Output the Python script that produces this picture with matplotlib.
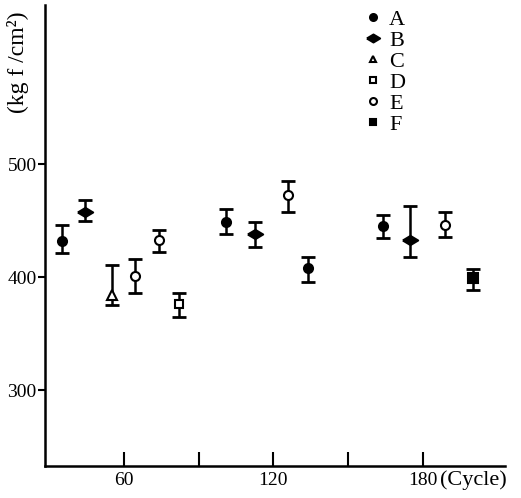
import matplotlib
matplotlib.use("Agg")
import matplotlib.pyplot as plt
from matplotlib.lines import Line2D

plt.rcParams['font.family'] = ['Liberation Serif', 'DejaVu Serif']

# series: cycle, mean strength, lower / upper ends of the error bar
A_x = [35, 101, 134, 164]
A_y = [432, 449, 408, 445]
A_lo = [421, 438, 396, 435]
A_hi = [446, 460, 418, 455]

B_x = [44.5, 112.5, 175]
B_y = [458, 438, 433]
B_lo = [450, 427, 418]
B_hi = [468, 449, 463]

C_x = [55]
C_y = [384]
C_lo = [375]
C_hi = [411]

D_x = [82]
D_y = [376]
D_lo = [365]
D_hi = [386]

E_x = [64.5, 74, 126, 189]
E_y = [401, 433, 473, 446]
E_lo = [386, 422, 458, 436]
E_hi = [416, 442, 485, 458]

F_x = [200]
F_y = [399]
F_lo = [389]
F_hi = [407]

labels = ['A', 'B', 'C', 'D', 'E', 'F']

# wide, flat diamond for series B
flat_diamond = [(-1.5, 0), (0, 0.9), (1.5, 0), (0, -0.9), (-1.5, 0)]

fig = plt.figure(figsize=(5.21, 4.98), dpi=100)
ax = fig.add_axes([0.0864, 0.0643, 0.883, 0.926])

series = [
    (A_x, A_y, A_lo, A_hi, 'o', 'black', 6.5),
    (B_x, B_y, B_lo, B_hi, flat_diamond, 'black', 11),
    (C_x, C_y, C_lo, C_hi, '^', 'white', 6.5),
    (D_x, D_y, D_lo, D_hi, 's', 'white', 5.5),
    (E_x, E_y, E_lo, E_hi, 'o', 'white', 6.5),
    (F_x, F_y, F_lo, F_hi, 's', 'black', 6.5),
]

handles = []
for (x, y, lo, hi, m, fc, ms), lab in zip(series, labels):
    err = [[yy - l for yy, l in zip(y, lo)], [h - yy for yy, h in zip(y, hi)]]
    ax.errorbar(x, y, yerr=err, fmt='none', ecolor='black', elinewidth=1.8,
                capsize=5, capthick=2)
    ax.plot(x, y, linestyle='none', marker=m, markersize=ms,
            markerfacecolor=fc, markeredgecolor='black', markeredgewidth=1.5)
    handles.append(Line2D([], [], linestyle='none', marker=m, markersize=ms - 1.5,
                          markerfacecolor=fc, markeredgecolor='black',
                          markeredgewidth=1.5, label=lab))

ax.set_xlim(28.3, 213)
ax.set_ylim(233, 641)

for s in ['top', 'right']:
    ax.spines[s].set_visible(False)
for s in ['left', 'bottom']:
    ax.spines[s].set_linewidth(1.8)

ax.set_xticks([60, 90, 120, 150, 180])
ax.set_xticklabels(['60', '', '120', '', '180'])
ax.set_yticks([300, 400, 500])
ax.tick_params(axis='x', direction='in', length=10, width=1.5, labelsize=14, pad=4)
ax.tick_params(axis='y', direction='out', length=5, width=1.5, labelsize=14, pad=1)

fig.text(440 / 521, 1 - 480 / 498, '(Cycle)', fontsize=16, ha='left', va='center')
fig.text(18 / 521, 1 - 62 / 498, '(kg f /cm²)', fontsize=17, rotation=90,
         ha='center', va='center')

ax.legend(handles=handles, loc='upper left', bbox_to_anchor=(0.675, 1.01),
          frameon=False, fontsize=16, handlelength=0.8, handletextpad=0.3,
          labelspacing=0.02, borderaxespad=0)

fig.savefig('out.png', dpi=100)
